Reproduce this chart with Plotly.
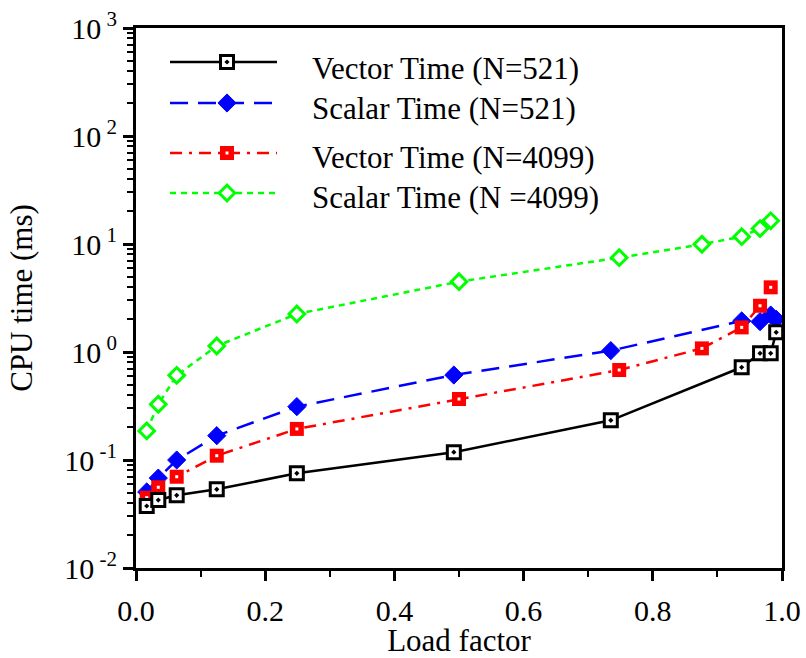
import plotly.graph_objects as go

# ---- data ----
x_vec521 = [0.0166, 0.0345, 0.063, 0.125, 0.249, 0.492, 0.735, 0.9376, 0.966, 0.9825, 0.991]
y_vec521 = [0.0375, 0.0426, 0.0471, 0.0535, 0.0753, 0.118, 0.233, 0.722, 0.973, 0.973, 1.52]

x_sca521 = [0.0166, 0.0345, 0.063, 0.125, 0.249, 0.492, 0.735, 0.9376, 0.966, 0.9825, 0.991]
y_sca521 = [0.0506, 0.068, 0.100, 0.168, 0.312, 0.612, 1.03, 1.94, 1.91, 2.2, 2.01]

x_vec4099 = [0.0166, 0.0345, 0.063, 0.125, 0.249, 0.5, 0.748, 0.876, 0.9376, 0.966, 0.9825]
y_vec4099 = [0.0448, 0.0559, 0.070, 0.1096, 0.194, 0.367, 0.681, 1.08, 1.69, 2.68, 3.97]

x_sca4099 = [0.0166, 0.0345, 0.063, 0.125, 0.249, 0.5, 0.748, 0.876, 0.9376, 0.966, 0.9825]
y_sca4099 = [0.186, 0.328, 0.608, 1.137, 2.25, 4.48, 7.47, 9.94, 11.7, 13.9, 16.4]

names = ["Vector Time (N=521)", "Scalar Time (N=521)",
         "Vector Time (N=4099)", "Scalar Time (N =4099)"]

x_ticks = [0.0, 0.2, 0.4, 0.6, 0.8, 1.0]
x_ticktext = ["0.0", "0.2", "0.4", "0.6", "0.8", "1.0"]
y_ticks = [0.01, 0.1, 1, 10, 100, 1000]
y_ticktext = ["10<sup> -2</sup>", "10<sup> -1</sup>", "10<sup> 0</sup>",
              "10<sup> 1</sup>", "10<sup> 2</sup>", "10<sup> 3</sup>"]

FONT = "Liberation Serif, Times New Roman, serif"

styles = [
    dict(line=dict(color="black", width=2.5, dash="solid"),
         marker=dict(symbol="square-dot", size=13, color="white",
                     line=dict(color="black", width=3))),
    dict(line=dict(color="#0000ff", width=2.5, dash="18px,10px"),
         marker=dict(symbol="diamond", size=14, color="#0000ff",
                     line=dict(color="#0000ff", width=1))),
    dict(line=dict(color="#ff0000", width=2.5, dash="12px,7px,3px,7px"),
         marker=dict(symbol="square", size=14, color="#ff0000",
                     line=dict(color="#ff0000", width=0))),
    dict(line=dict(color="#00ff00", width=2.5, dash="6px,5px"),
         marker=dict(symbol="diamond", size=12, color="white",
                     line=dict(color="#00ff00", width=3))),
]

series = [(x_vec521, y_vec521), (x_sca521, y_sca521),
          (x_vec4099, y_vec4099), (x_sca4099, y_sca4099)]

fig = go.Figure()
order = [3, 1, 2, 0]
for i in order:
    xs, ys = series[i]
    fig.add_trace(go.Scatter(x=xs, y=ys, mode="lines+markers", name=names[i],
                             line=styles[i]["line"], marker=styles[i]["marker"],
                             showlegend=False))
    if i == 2:
        fig.add_trace(go.Scatter(x=xs, y=ys, mode="markers",
                                 marker=dict(symbol="square", size=3, color="white"),
                                 showlegend=False, hoverinfo="skip"))

# ---- custom legend on an overlay axis ----
W, H = 806, 658
L, R, T, B = 136, 24, 28, 90
pw, ph = W - L - R, H - T - B
def px(xp): return (xp - L) / pw
def py(yp): return (H - B - yp) / ph

leg_rows = [62, 103, 153, 193]
leg_text_y = [68, 108, 158, 197]
for k in range(4):
    yy = py(leg_rows[k])
    fig.add_trace(go.Scatter(x=[px(170), px(277)], y=[yy, yy], mode="lines",
                             line=styles[k]["line"], xaxis="x2", yaxis="y2",
                             showlegend=False, hoverinfo="skip"))
    fig.add_trace(go.Scatter(x=[px(227)], y=[yy], mode="markers",
                             marker=styles[k]["marker"], xaxis="x2", yaxis="y2",
                             showlegend=False, hoverinfo="skip"))
    if k == 2:
        fig.add_trace(go.Scatter(x=[px(227)], y=[yy], mode="markers",
                                 marker=dict(symbol="square", size=3, color="white"),
                                 xaxis="x2", yaxis="y2", showlegend=False, hoverinfo="skip"))
    fig.add_annotation(x=px(310), y=py(leg_text_y[k]), xref="paper", yref="paper",
                       text=names[k], showarrow=False, xanchor="left", yanchor="middle",
                       font=dict(family=FONT, size=31, color="black"))

fig.update_layout(
    width=W, height=H,
    margin=dict(l=L, r=R, t=T, b=B),
    paper_bgcolor="white", plot_bgcolor="white",
    font=dict(family=FONT, size=30, color="black"),
    showlegend=False,
    xaxis=dict(range=[0, 1], tickvals=x_ticks, ticktext=x_ticktext, automargin=False,
               ticks="outside", ticklen=10, tickwidth=2.5, tickcolor="black",
               showline=True, linewidth=3, linecolor="black", mirror=True,
               showgrid=False, zeroline=False,
               minor=dict(ticks="outside", ticklen=6, tickwidth=2, tickcolor="black",
                          tickvals=[0.1, 0.3, 0.5, 0.7, 0.9]),
               title=dict(text="Load factor", font=dict(size=31), standoff=6),
               tickfont=dict(size=30), ticklabelstandoff=4),
    yaxis=dict(type="log", range=[-2, 3], tickvals=y_ticks, ticktext=y_ticktext,
               automargin=False,
               ticks="outside", ticklen=10, tickwidth=2.5, tickcolor="black",
               showline=True, linewidth=3, linecolor="black", mirror=True,
               showgrid=False, zeroline=False,
               minor=dict(ticks="outside", ticklen=6, tickwidth=2, tickcolor="black",
                          dtick="D1"),
               title=dict(text="CPU time (ms)", font=dict(size=31), standoff=23),
               tickfont=dict(size=30)),
    xaxis2=dict(range=[0, 1], overlaying="x", visible=False, fixedrange=True),
    yaxis2=dict(range=[0, 1], overlaying="y", visible=False, fixedrange=True),
)

fig.write_html("out.html", config={"displayModeBar": False},
               post_script="document.body.style.margin='0';document.body.style.overflow='hidden';")
